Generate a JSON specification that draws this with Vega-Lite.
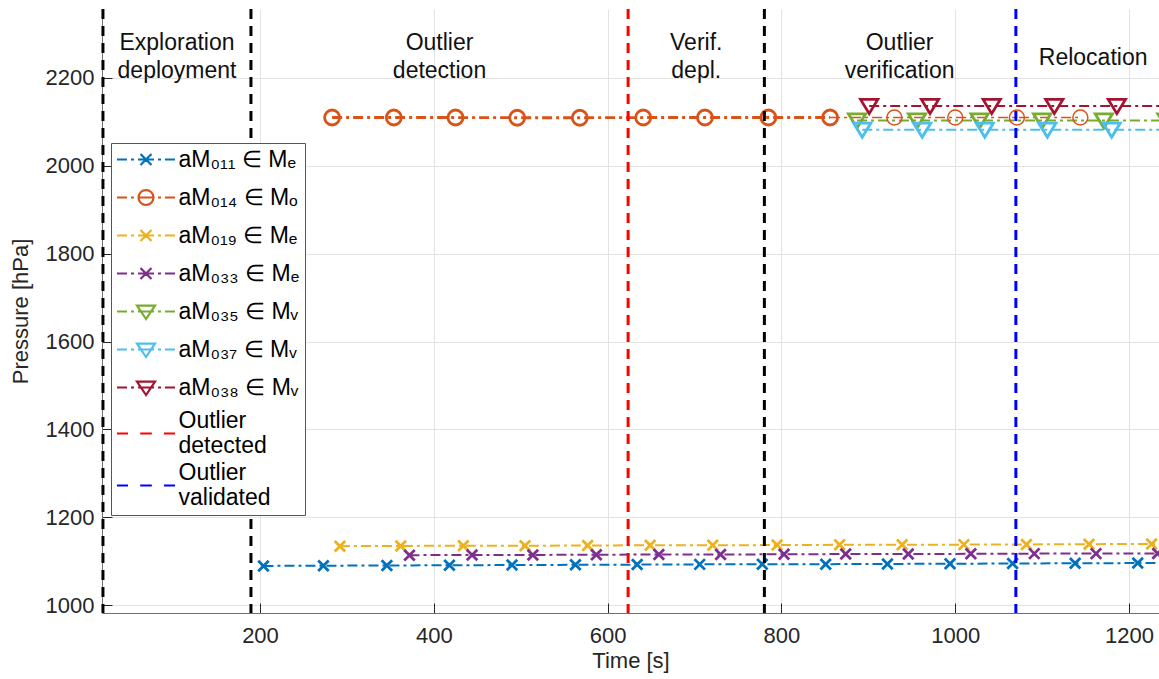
{
  "$schema": "https://vega.github.io/schema/vega-lite/v6.json",
  "width": 1057,
  "height": 604,
  "autosize": {"type": "none"},
  "padding": {"left": 102, "top": 9, "right": 0, "bottom": 66},
  "background": "white",
  "config": {
    "view": {"stroke": null},
    "font": "Liberation Sans",
    "axis": {
      "labelFont": "Liberation Sans",
      "labelFontSize": 22,
      "labelColor": "#262626",
      "titleFont": "Liberation Sans",
      "titleFontSize": 22,
      "titleColor": "#262626",
      "titleFontWeight": "normal",
      "gridColor": "#e3e3e3",
      "gridWidth": 1,
      "domainColor": "#707070",
      "tickColor": "#262626",
      "tickSize": -10
    }
  },
  "datasets": {
    "series": [
      {"series": "aM₀₁₁ ∈ Mₑ", "t": 204, "p": 1089},
      {"series": "aM₀₁₁ ∈ Mₑ", "t": 273, "p": 1089.5},
      {"series": "aM₀₁₁ ∈ Mₑ", "t": 346, "p": 1090},
      {"series": "aM₀₁₁ ∈ Mₑ", "t": 418, "p": 1090.5},
      {"series": "aM₀₁₁ ∈ Mₑ", "t": 490, "p": 1091},
      {"series": "aM₀₁₁ ∈ Mₑ", "t": 563, "p": 1091.5},
      {"series": "aM₀₁₁ ∈ Mₑ", "t": 634, "p": 1092},
      {"series": "aM₀₁₁ ∈ Mₑ", "t": 706, "p": 1092.5},
      {"series": "aM₀₁₁ ∈ Mₑ", "t": 778, "p": 1093},
      {"series": "aM₀₁₁ ∈ Mₑ", "t": 851, "p": 1093},
      {"series": "aM₀₁₁ ∈ Mₑ", "t": 922, "p": 1093.5},
      {"series": "aM₀₁₁ ∈ Mₑ", "t": 994, "p": 1094},
      {"series": "aM₀₁₁ ∈ Mₑ", "t": 1066, "p": 1094.5},
      {"series": "aM₀₁₁ ∈ Mₑ", "t": 1138, "p": 1095},
      {"series": "aM₀₁₁ ∈ Mₑ", "t": 1210, "p": 1095.5},
      {"series": "aM₀₁₁ ∈ Mₑ", "t": 1282, "p": 1096},
      {"series": "aM₀₁₄ ∈ Mₒ", "t": 283, "p": 2110},
      {"series": "aM₀₁₄ ∈ Mₒ", "t": 354, "p": 2110},
      {"series": "aM₀₁₄ ∈ Mₒ", "t": 425, "p": 2110},
      {"series": "aM₀₁₄ ∈ Mₒ", "t": 496, "p": 2109.5},
      {"series": "aM₀₁₄ ∈ Mₒ", "t": 568, "p": 2109.5},
      {"series": "aM₀₁₄ ∈ Mₒ", "t": 641, "p": 2110},
      {"series": "aM₀₁₄ ∈ Mₒ", "t": 712, "p": 2110},
      {"series": "aM₀₁₄ ∈ Mₒ", "t": 785, "p": 2110},
      {"series": "aM₀₁₄ ∈ Mₒ", "t": 856, "p": 2110},
      {"series": "aM₀₁₄ ∈ Mₒ", "t": 930, "p": 2110},
      {"series": "aM₀₁₄ ∈ Mₒ", "t": 1000, "p": 2110},
      {"series": "aM₀₁₄ ∈ Mₒ", "t": 1071, "p": 2110},
      {"series": "aM₀₁₄ ∈ Mₒ", "t": 1144, "p": 2110},
      {"series": "aM₀₁₉ ∈ Mₑ", "t": 292, "p": 1134},
      {"series": "aM₀₁₉ ∈ Mₑ", "t": 362, "p": 1134.5},
      {"series": "aM₀₁₉ ∈ Mₑ", "t": 434, "p": 1135},
      {"series": "aM₀₁₉ ∈ Mₑ", "t": 505, "p": 1135},
      {"series": "aM₀₁₉ ∈ Mₑ", "t": 577, "p": 1135.5},
      {"series": "aM₀₁₉ ∈ Mₑ", "t": 649, "p": 1136},
      {"series": "aM₀₁₉ ∈ Mₑ", "t": 721, "p": 1136},
      {"series": "aM₀₁₉ ∈ Mₑ", "t": 795, "p": 1136.5},
      {"series": "aM₀₁₉ ∈ Mₑ", "t": 867, "p": 1137},
      {"series": "aM₀₁₉ ∈ Mₑ", "t": 939, "p": 1137},
      {"series": "aM₀₁₉ ∈ Mₑ", "t": 1010, "p": 1137.5},
      {"series": "aM₀₁₉ ∈ Mₑ", "t": 1082, "p": 1138},
      {"series": "aM₀₁₉ ∈ Mₑ", "t": 1154, "p": 1138.5},
      {"series": "aM₀₁₉ ∈ Mₑ", "t": 1226, "p": 1139},
      {"series": "aM₀₁₉ ∈ Mₑ", "t": 1298, "p": 1139},
      {"series": "aM₀₃₃ ∈ Mₑ", "t": 372, "p": 1113.5},
      {"series": "aM₀₃₃ ∈ Mₑ", "t": 444, "p": 1114},
      {"series": "aM₀₃₃ ∈ Mₑ", "t": 514, "p": 1114},
      {"series": "aM₀₃₃ ∈ Mₑ", "t": 587, "p": 1114.5},
      {"series": "aM₀₃₃ ∈ Mₑ", "t": 659, "p": 1115},
      {"series": "aM₀₃₃ ∈ Mₑ", "t": 730, "p": 1115},
      {"series": "aM₀₃₃ ∈ Mₑ", "t": 803, "p": 1115.5},
      {"series": "aM₀₃₃ ∈ Mₑ", "t": 874, "p": 1116},
      {"series": "aM₀₃₃ ∈ Mₑ", "t": 946, "p": 1116},
      {"series": "aM₀₃₃ ∈ Mₑ", "t": 1018, "p": 1116.5},
      {"series": "aM₀₃₃ ∈ Mₑ", "t": 1091, "p": 1117},
      {"series": "aM₀₃₃ ∈ Mₑ", "t": 1162, "p": 1117},
      {"series": "aM₀₃₃ ∈ Mₑ", "t": 1233, "p": 1117.5},
      {"series": "aM₀₃₃ ∈ Mₑ", "t": 1305, "p": 1118},
      {"series": "aM₀₃₅ ∈ Mᵥ", "t": 887, "p": 2103},
      {"series": "aM₀₃₅ ∈ Mᵥ", "t": 956, "p": 2103},
      {"series": "aM₀₃₅ ∈ Mᵥ", "t": 1028, "p": 2103},
      {"series": "aM₀₃₅ ∈ Mᵥ", "t": 1100, "p": 2103},
      {"series": "aM₀₃₅ ∈ Mᵥ", "t": 1171, "p": 2103},
      {"series": "aM₀₃₅ ∈ Mᵥ", "t": 1243, "p": 2103},
      {"series": "aM₀₃₇ ∈ Mᵥ", "t": 893, "p": 2082},
      {"series": "aM₀₃₇ ∈ Mᵥ", "t": 962, "p": 2082},
      {"series": "aM₀₃₇ ∈ Mᵥ", "t": 1034, "p": 2082},
      {"series": "aM₀₃₇ ∈ Mᵥ", "t": 1106, "p": 2082},
      {"series": "aM₀₃₇ ∈ Mᵥ", "t": 1180, "p": 2082},
      {"series": "aM₀₃₇ ∈ Mᵥ", "t": 1252, "p": 2082},
      {"series": "aM₀₃₈ ∈ Mᵥ", "t": 901, "p": 2136},
      {"series": "aM₀₃₈ ∈ Mᵥ", "t": 971, "p": 2136},
      {"series": "aM₀₃₈ ∈ Mᵥ", "t": 1042, "p": 2136},
      {"series": "aM₀₃₈ ∈ Mᵥ", "t": 1114, "p": 2136},
      {"series": "aM₀₃₈ ∈ Mᵥ", "t": 1186, "p": 2136},
      {"series": "aM₀₃₈ ∈ Mᵥ", "t": 1257, "p": 2136}
    ],
    "phases": [{"t": 19.3}, {"t": 189.6}, {"t": 780.4}],
    "events": [
      {"series": "Outlier detected", "t": 623.6},
      {"series": "Outlier validated", "t": 1069.8}
    ],
    "labels": [
      {"t": 104.5, "p": 2280, "text": "Exploration\ndeployment"},
      {"t": 406.6, "p": 2280, "text": "Outlier\ndetection"},
      {"t": 702, "p": 2280, "text": "Verif.\ndepl."},
      {"t": 936, "p": 2280, "text": "Outlier\nverification"},
      {"t": 1158.7, "p": 2245, "text": "Relocation"}
    ]
  },
  "layer": [
    {
      "data": {"name": "series"},
      "transform": [{"filter": "datum.series !== 'aM₀₁₄ ∈ Mₒ'"}],
      "mark": {"type": "line", "strokeWidth": 2, "strokeDash": [10, 4, 3, 4], "clip": true},
      "encoding": {
        "x": {"field": "t", "type": "quantitative", "title": "Time [s]", "scale": {"domain": [18.2, 1234.5], "nice": false, "zero": false},
          "axis": {"title": "Time [s]", "values": [200, 400, 600, 800, 1000, 1200], "format": "d", "labelFlush": false, "labelPadding": 22, "titlePadding": 4, "grid": true}},
        "y": {"field": "p", "type": "quantitative", "title": "Pressure [hPa]", "scale": {"domain": [981.8, 2357.1], "nice": false, "zero": false},
          "axis": {"title": "Pressure [hPa]", "values": [1000, 1200, 1400, 1600, 1800, 2000, 2200], "format": "d", "labelPadding": 18, "titlePadding": 13, "grid": true}},
        "stroke": {"field": "series", "type": "nominal", "legend": null,
          "scale": {"domain": ["Outlier detected", "Outlier validated", "aM₀₁₁ ∈ Mₑ", "aM₀₁₄ ∈ Mₒ", "aM₀₁₉ ∈ Mₑ", "aM₀₃₃ ∈ Mₑ", "aM₀₃₅ ∈ Mᵥ", "aM₀₃₇ ∈ Mᵥ", "aM₀₃₈ ∈ Mᵥ"],
            "range": ["#FF0000", "#0000FF", "#0072BD", "#D95319", "#EDB120", "#7E2F8E", "#77AC30", "#4DBEEE", "#A2142F"]}}
      }
    },
    {
      "data": {"name": "series"},
      "transform": [{"filter": "datum.series === 'aM₀₁₄ ∈ Mₒ' && datum.t <= 857"}],
      "mark": {"type": "line", "strokeWidth": 2.8, "strokeDash": [10, 4, 3, 4], "clip": true},
      "encoding": {
        "x": {"field": "t", "type": "quantitative", "title": "Time [s]"},
        "y": {"field": "p", "type": "quantitative", "title": "Pressure [hPa]"},
        "stroke": {"field": "series", "type": "nominal", "legend": null}
      }
    },
    {
      "data": {"name": "series"},
      "transform": [{"filter": "datum.series === 'aM₀₁₄ ∈ Mₒ' && datum.t >= 855"}],
      "mark": {"type": "line", "strokeWidth": 1.5, "strokeDash": [10, 4, 3, 4], "clip": true},
      "encoding": {
        "x": {"field": "t", "type": "quantitative", "title": "Time [s]"},
        "y": {"field": "p", "type": "quantitative", "title": "Pressure [hPa]"},
        "stroke": {"field": "series", "type": "nominal", "legend": null}
      }
    },
    {
      "data": {"name": "series"},
      "mark": {"type": "point", "filled": false, "size": 225, "clip": true, "opacity": 1},
      "encoding": {
        "x": {"field": "t", "type": "quantitative", "title": "Time [s]"},
        "y": {"field": "p", "type": "quantitative", "title": "Pressure [hPa]"},
        "strokeWidth": {"condition": {"test": "datum.series === 'aM₀₁₄ ∈ Mₒ' && datum.t > 860", "value": 1.5}, "value": 2.8},
        "shape": {"field": "series", "type": "nominal", "legend": null,
          "scale": {"domain": ["aM₀₁₁ ∈ Mₑ", "aM₀₁₄ ∈ Mₒ", "aM₀₁₉ ∈ Mₑ", "aM₀₃₃ ∈ Mₑ", "aM₀₃₅ ∈ Mᵥ", "aM₀₃₇ ∈ Mᵥ", "aM₀₃₈ ∈ Mᵥ"],
            "range": ["M-0.7,-0.7L0.7,0.7M-0.7,0.7L0.7,-0.7", "circle", "M-0.7,-0.7L0.7,0.7M-0.7,0.7L0.7,-0.7", "M-0.7,-0.7L0.7,0.7M-0.7,0.7L0.7,-0.7", "M0,1.0L-1.15,-0.9L1.15,-0.9Z", "M0,1.0L-1.15,-0.9L1.15,-0.9Z", "M0,1.0L-1.15,-0.9L1.15,-0.9Z"]}},
        "color": {"field": "series", "type": "nominal",
          "legend": {
            "title": null,
            "orient": "none",
            "legendX": 9,
            "legendY": 134,
            "padding": 5,
            "strokeColor": "#555555",
            "fillColor": "#ffffff",
            "labelFont": "Liberation Sans",
            "labelFontSize": 23,
            "labelColor": "#000000",
            "labelLimit": 400,
            "labelOffset": 21,
            "symbolOffset": 18.5,
            "symbolSize": 400,
            "symbolStrokeWidth": 2.2,
            "symbolFillColor": "transparent",
            "rowPadding": 3,
            "labelBaseline": {"expr": "datum.index >= 7 ? 'line-bottom' : 'middle'"},
            "labelExpr": "datum.label == 'Outlier detected' ? ['Outlier', 'detected'] : datum.label == 'Outlier validated' ? ['Outlier', 'validated'] : datum.label",
            "symbolType": {"expr": "['M-2.9,0H-1.9M-1.5,0H-1.2M-0.8,0H0.8M1.2,0H1.5M1.9,0H2.9M0,-1.15M0,1.38M-0.55,-0.55L0.55,0.55M-0.55,0.55L0.55,-0.55', 'M-2.9,0H-1.9M-1.5,0H-1.2M-0.8,0H0.8M1.2,0H1.5M1.9,0H2.9M0,-1.15M0,1.38M0.75,0L0.693,0.287L0.53,0.53L0.287,0.693L0,0.75L-0.287,0.693L-0.53,0.53L-0.693,0.287L-0.75,0L-0.693,-0.287L-0.53,-0.53L-0.287,-0.693L0,-0.75L0.287,-0.693L0.53,-0.53L0.693,-0.287Z', 'M-2.9,0H-1.9M-1.5,0H-1.2M-0.8,0H0.8M1.2,0H1.5M1.9,0H2.9M0,-1.15M0,1.38M-0.55,-0.55L0.55,0.55M-0.55,0.55L0.55,-0.55', 'M-2.9,0H-1.9M-1.5,0H-1.2M-0.8,0H0.8M1.2,0H1.5M1.9,0H2.9M0,-1.15M0,1.38M-0.55,-0.55L0.55,0.55M-0.55,0.55L0.55,-0.55', 'M-2.9,0H-1.9M-1.5,0H-1.2M-0.8,0H0.8M1.2,0H1.5M1.9,0H2.9M0,-1.15M0,1.38M0,0.75L-0.9,-0.58L0.9,-0.58Z', 'M-2.9,0H-1.9M-1.5,0H-1.2M-0.8,0H0.8M1.2,0H1.5M1.9,0H2.9M0,-1.15M0,1.38M0,0.75L-0.9,-0.58L0.9,-0.58Z', 'M-2.9,0H-1.9M-1.5,0H-1.2M-0.8,0H0.8M1.2,0H1.5M1.9,0H2.9M0,-1.15M0,1.38M0,0.75L-0.9,-0.58L0.9,-0.58Z', 'M-2.9,0H-1.8M-0.58,0H0.58M1.8,0H2.9', 'M-2.9,0H-1.8M-0.58,0H0.58M1.8,0H2.9'][datum.index]"},
            "encode": {
              "labels": {
                "lineHeight": {"value": 28}
              }
            }
          },
          "scale": {"domain": ["aM₀₁₁ ∈ Mₑ", "aM₀₁₄ ∈ Mₒ", "aM₀₁₉ ∈ Mₑ", "aM₀₃₃ ∈ Mₑ", "aM₀₃₅ ∈ Mᵥ", "aM₀₃₇ ∈ Mᵥ", "aM₀₃₈ ∈ Mᵥ", "Outlier detected", "Outlier validated"],
            "range": ["#0072BD", "#D95319", "#EDB120", "#7E2F8E", "#77AC30", "#4DBEEE", "#A2142F", "#FF0000", "#0000FF"]}}
      }
    },
    {
      "data": {"name": "events"},
      "mark": {"type": "rule", "strokeWidth": 3, "strokeDash": [10, 7]},
      "encoding": {
        "x": {"field": "t", "type": "quantitative", "title": "Time [s]"},
        "stroke": {"field": "series", "type": "nominal", "legend": null}
      }
    },
    {
      "data": {"name": "phases"},
      "mark": {"type": "rule", "strokeWidth": 3, "strokeDash": [10, 7], "color": "#000000"},
      "encoding": {
        "x": {"field": "t", "type": "quantitative", "title": "Time [s]"}
      }
    },
    {
      "data": {"name": "labels"},
      "mark": {"type": "text", "font": "Liberation Sans", "fontSize": 23, "lineHeight": 28, "lineBreak": "\n", "align": "center", "baseline": "middle", "color": "#111111"},
      "encoding": {
        "x": {"field": "t", "type": "quantitative", "title": "Time [s]"},
        "y": {"field": "p", "type": "quantitative", "title": "Pressure [hPa]"},
        "text": {"field": "text", "type": "nominal"}
      }
    }
  ]
}
